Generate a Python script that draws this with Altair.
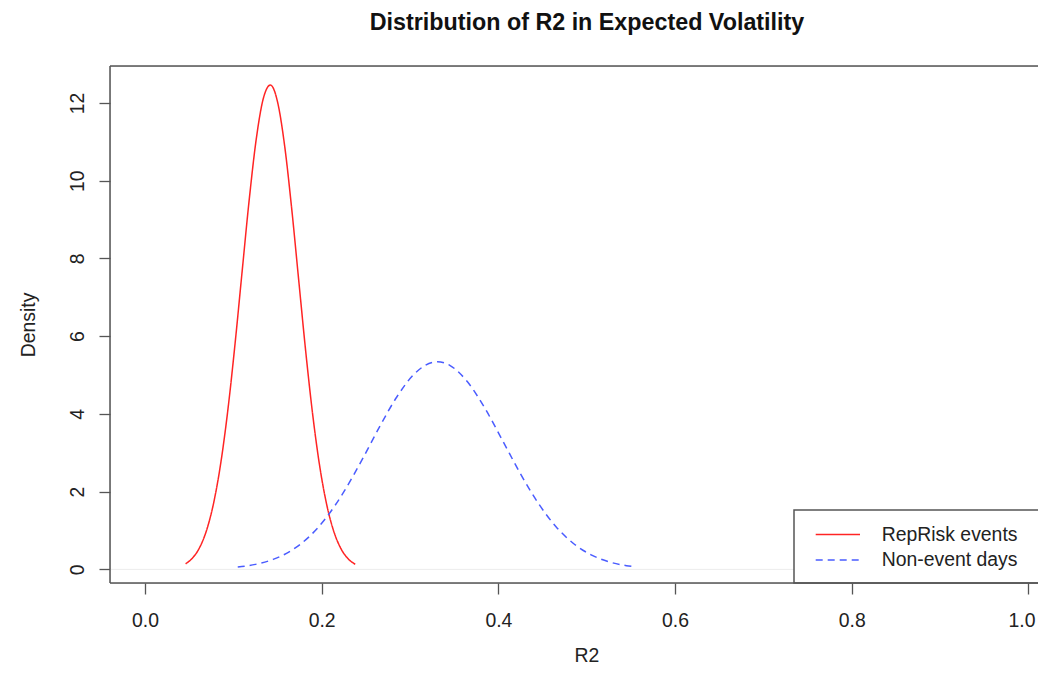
import altair as alt
import pandas as pd

# ---- data ----
series_names = ["RepRisk events", "Non-event days"]
series_colors = ["#ff2424", "#4a5cff"]

red_x = [0.046, 0.054, 0.062, 0.070, 0.078, 0.086, 0.094, 0.102, 0.110, 0.118, 0.126,
         0.134, 0.142, 0.150, 0.158, 0.166, 0.174, 0.182, 0.190, 0.198, 0.206, 0.214,
         0.222, 0.230, 0.238]
red_y = [0.145, 0.297, 0.569, 1.027, 1.740, 2.769, 4.139, 5.817, 7.675, 9.516, 11.08,
         12.12, 12.46, 12.03, 10.91, 9.294, 7.440, 5.593, 3.950, 2.621, 1.634, 0.957,
         0.526, 0.272, 0.132]

blue_x = [0.105, 0.125, 0.145, 0.165, 0.185, 0.205, 0.225, 0.245, 0.265, 0.285, 0.305,
          0.325, 0.331, 0.345, 0.365, 0.385, 0.405, 0.425, 0.445, 0.465, 0.485, 0.505,
          0.525, 0.545, 0.552]
blue_y = [0.061, 0.129, 0.257, 0.476, 0.823, 1.326, 1.993, 2.791, 3.645, 4.435, 5.032,
          5.323, 5.340, 5.249, 4.825, 4.135, 3.303, 2.460, 1.708, 1.105, 0.667, 0.375,
          0.197, 0.096, 0.074]

x_ticks = [0.0, 0.2, 0.4, 0.6, 0.8, 1.0]
y_ticks = [0, 2, 4, 6, 8, 10, 12]
x_domain = [-0.0396, 1.0108]
y_domain = [-0.35, 12.95]

df = pd.concat([
    pd.DataFrame({"x": red_x, "y": red_y, "series": series_names[0]}),
    pd.DataFrame({"x": blue_x, "y": blue_y, "series": series_names[1]}),
], ignore_index=True)
legend_df = pd.DataFrame({"series": series_names})
zero_df = pd.DataFrame({"y": [0]})

# ---- layout ----
W, H = 928, 517
FONT = "Liberation Sans"
FS = 19.4
FRAME = "#555555"
TXT = "#222222"

xscale = alt.Scale(domain=x_domain, nice=False, zero=False)
yscale = alt.Scale(domain=y_domain, nice=False, zero=False)
color = alt.Color("series:N", scale=alt.Scale(domain=series_names, range=series_colors), legend=None)
dash = alt.StrokeDash("series:N", scale=alt.Scale(domain=series_names, range=[[1, 0], [7, 5]]), legend=None)

x_axis = alt.Axis(values=x_ticks, format=".1f", title="R2", grid=False, domain=False,
                  ticks=True, tickSize=11, tickColor=FRAME, tickWidth=1.3,
                  labelFont=FONT, labelFontSize=FS, labelColor=TXT,
                  labelBaseline="alphabetic", labelPadding=32, labelAlign="center",
                  labelOffset=alt.expr("datum.value >= 1 ? -7 : 0"),
                  titleFont=FONT, titleFontSize=FS, titleFontWeight="normal", titleColor=TXT,
                  titleX=476.5, titleY=78, titleAlign="center", titleBaseline="alphabetic")
y_axis = alt.Axis(values=y_ticks, format="d", title="Density", grid=False, domain=False,
                  ticks=True, tickSize=11, tickColor=FRAME, tickWidth=1.3,
                  labelFont=FONT, labelFontSize=FS, labelColor=TXT,
                  labelAngle=270, labelAlign="center", labelBaseline="alphabetic", labelPadding=16,
                  titleFont=FONT, titleFontSize=FS, titleFontWeight="normal", titleColor=TXT,
                  titleAngle=270, titleX=-76, titleY=258.5, titleAlign="center", titleBaseline="alphabetic")

zero_line = alt.Chart(zero_df).mark_rule(color="#ececec", strokeWidth=1).encode(
    y=alt.Y("y:Q", scale=yscale, axis=y_axis))

curves = alt.Chart(df).mark_line(strokeWidth=1.5, interpolate="monotone").encode(
    x=alt.X("x:Q", scale=xscale, axis=x_axis),
    y=alt.Y("y:Q", scale=yscale, axis=y_axis),
    color=color, strokeDash=dash, detail="series:N")

# plot frame (top, left, bottom; right side lies beyond the picture)
frame_top = alt.Chart(zero_df).mark_rule(color=FRAME, strokeWidth=1.5).encode(
    x=alt.value(0), x2=alt.value(W + 20), y=alt.value(0))
frame_left = alt.Chart(zero_df).mark_rule(color=FRAME, strokeWidth=1.5).encode(
    x=alt.value(0), y=alt.value(0), y2=alt.value(H))
frame_bottom = alt.Chart(zero_df).mark_rule(color=FRAME, strokeWidth=1.5).encode(
    x=alt.value(0), x2=alt.value(W + 20), y=alt.value(H))

# legend box (bottom right, cut off by the picture edge)
LX, LY = 684, 444
legend_box = alt.Chart(zero_df).mark_rect(fill="white", stroke=FRAME, strokeWidth=1.5).encode(
    x=alt.value(LX), x2=alt.value(W + 30), y=alt.value(LY), y2=alt.value(H))

legend_layers = []
for i, (ly_line, ly_text) in enumerate([(468.5, 474.7), (494, 499.7)]):
    base = alt.Chart(legend_df).transform_filter(alt.datum.series == series_names[i])
    legend_layers.append(base.mark_rule(strokeWidth=1.5).encode(
        x=alt.value(705.7), x2=alt.value(750), y=alt.value(ly_line),
        color=color, strokeDash=dash))
    legend_layers.append(base.mark_text(align="left", baseline="alphabetic", font=FONT,
                                        fontSize=FS, color=TXT).encode(
        x=alt.value(771.7), y=alt.value(ly_text), text="series:N"))

chart = alt.layer(zero_line, curves, legend_box, *legend_layers,
                  frame_top, frame_left, frame_bottom).properties(
    width=W, height=H,
    title=alt.TitleParams("Distribution of R2 in Expected Volatility", font=FONT,
                          fontSize=23.3, fontWeight="bold", color="#111111",
                          anchor="middle", dx=13, offset=12, baseline="alphabetic"),
    padding={"left": 102, "top": 58, "right": 0, "bottom": 83},
    autosize=alt.AutoSizeParams(type="none"),
).configure_view(strokeWidth=0).configure(background="white")

chart.save("out.html", embed_options={"renderer": "svg", "actions": False})
